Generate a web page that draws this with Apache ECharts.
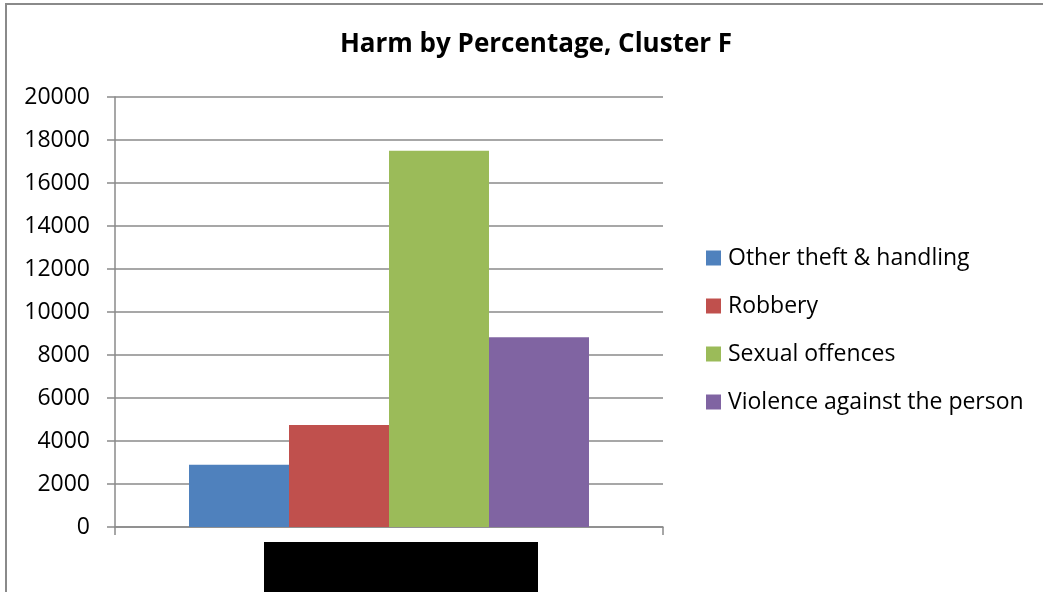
<!DOCTYPE html>
<html>
<head>
<meta charset="utf-8">
<script src="https://cdn.jsdelivr.net/npm/echarts@6/dist/echarts.min.js"></script>
<style>
html, body { margin: 0; padding: 0; background: #fff; }
#chart { width: 1043px; height: 592px; }
</style>
</head>
<body>
<div id="chart"></div>
<script>
// data
var categories = ['Cluster F']
var seriesNames = ['Other theft & handling', 'Robbery', 'Sexual offences', 'Violence against the person']
var seriesValues = [[2900], [4750], [17500], [8820]]
var colors = ['#4f81bd', '#c0504d', '#9bbb59', '#8064a2']

var chart = echarts.init(document.getElementById('chart'))

var series = seriesNames.map(function (name, i) {
  return {
    name: name,
    type: 'bar',
    data: seriesValues[i],
    barWidth: 100,
    barGap: 0,
    itemStyle: { color: colors[i] }
  }
})

chart.setOption({
  animation: false,
  textStyle: { fontFamily: 'Open Sans' },
  title: {
    text: 'Harm by Percentage, Cluster F',
    left: 531,
    textAlign: 'center',
    top: 27,
    textStyle: { fontFamily: 'Open Sans', fontWeight: 'bold', fontSize: 26, color: '#000' }
  },
  legend: {
    orient: 'vertical',
    left: 706,
    top: 246,
    padding: 0,
    itemWidth: 15,
    itemHeight: 15,
    itemGap: 24,
    icon: 'rect',
    textStyle: { fontSize: 23, color: '#000', lineHeight: 24, padding: [0, 0, 0, 2] }
  },
  grid: { left: 115, right: 380, top: 97, bottom: 65, containLabel: false },
  xAxis: {
    type: 'category',
    data: categories,
    axisLine: { lineStyle: { color: '#8a8a8a', width: 1.5 } },
    axisTick: { show: true, length: 8, lineStyle: { color: '#8a8a8a', width: 1.5 } },
    axisLabel: { color: '#000', fontSize: 18, margin: 20 }
  },
  yAxis: {
    type: 'value',
    min: 0,
    max: 20000,
    interval: 2000,
    axisLine: { show: true, lineStyle: { color: '#8a8a8a', width: 1.5 } },
    axisTick: { show: true, length: 8, lineStyle: { color: '#8a8a8a', width: 1.5 } },
    axisLabel: { color: '#000', fontSize: 23, margin: 25, formatter: function (v) { return String(v) } },
    splitLine: { lineStyle: { color: '#8a8a8a', width: 1.5 } }
  },
  graphic: [
    // outer chart frame (only top and left edges visible)
    { type: 'rect', shape: { x: 6, y: 4, width: 1100, height: 700 }, style: { fill: 'none', stroke: '#8a8a8a', lineWidth: 2 }, silent: true },
    // redacted category label
    { type: 'rect', shape: { x: 264, y: 542, width: 274, height: 60 }, style: { fill: '#000' }, z: 100, silent: true }
  ],
  series: series
})
</script>
</body>
</html>
